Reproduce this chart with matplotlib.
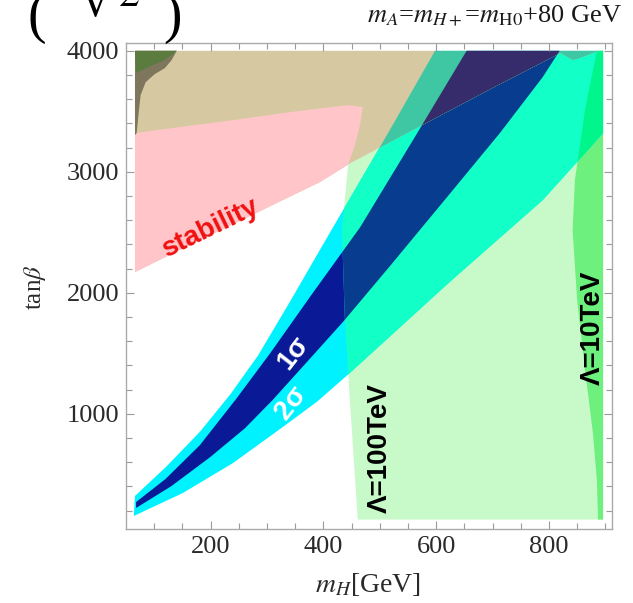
import numpy as np
import matplotlib.pyplot as plt

plt.rcParams['font.family'] = ['Liberation Serif', 'DejaVu Serif']
plt.rcParams['mathtext.fontset'] = 'stix'

# region boundaries in (m_H [GeV], tan beta)
sig2_up_m = [66, 122, 181, 235, 284, 340, 412, 516, 598]
sig2_up_t = [320, 565, 850, 1160, 1480, 1920, 2500, 3330, 4000]
sig2_lo_m = [64, 151, 240, 328, 389, 447, 624, 789, 896]
sig2_lo_t = [155, 345, 593, 890, 1100, 1337, 2089, 2766, 3319]

sig1_up_m = [68, 120, 181, 245, 306, 380, 465, 560, 654]
sig1_up_t = [270, 460, 740, 1120, 1502, 1990, 2540, 3270, 4000]
sig1_lo_m = [68, 130, 199, 261, 310, 381, 435, 518, 621, 713, 789, 819]
sig1_lo_t = [221, 400, 640, 880, 1113, 1480, 1760, 2220, 2800, 3320, 3783, 4000]

# lower edge of the excluded (tan) region
excl_m = [66, 181, 270, 328, 394, 444, 572, 696, 820, 843, 855, 878, 890]
excl_t = [2171, 2436, 2634, 2766, 2915, 3060, 3378, 3683, 3981, 3923, 3940, 3981, 4000]

stab_top_m = [66, 146, 240, 341, 443, 456, 470, 465, 456]
stab_top_t = [3320, 3370, 3427, 3493, 3551, 3543, 3535, 3386, 3221]

lam100_m = [461, 447, 438, 433]
lam100_t = [125, 1113, 1798, 2517]
lam10_m = [885, 864, 846, 842, 850, 864, 878, 885, 887]
lam10_t = [4000, 3509, 2931, 2518, 1939, 1361, 840, 452, 125]

olive_m = [66, 69, 73, 76, 85, 101, 119, 131, 140, 66]
olive_t = [3303, 3320, 3509, 3634, 3741, 3807, 3857, 3923, 4000, 4000]
dgreen_m = [66, 140, 119, 93, 68]
dgreen_t = [4000, 4000, 3923, 3873, 3816]

m_min, m_max, t_min, t_max = 66, 896, 125, 4000

fig = plt.figure(figsize=(6.33, 6.03), dpi=100)
ax = fig.add_axes([0.199, 0.1227, 0.768, 0.8063])


def region(m, t, color, clip=None):
    p = ax.fill(m, t, color=color, lw=0)[0]
    if clip is not None:
        p.set_clip_path(clip)
    return p


k = excl_m.index(444)
l100 = region(lam100_m + excl_m[k:] + [m_max, m_max],
              lam100_t + excl_t[k:] + [t_max, t_min], '#C8F9C8')
l10 = region(lam10_m + [m_max, m_max], lam10_t + [t_min, t_max], '#6DF07D')

band2_m = sig2_up_m + [m_max] + sig2_lo_m[::-1]
band2_t = sig2_up_t + [t_max] + sig2_lo_t[::-1]
band1_m = sig1_up_m + sig1_lo_m[::-1]
band1_t = sig1_up_t + sig1_lo_t[::-1]

region(band2_m, band2_t, '#00F2FF')
region(band1_m, band1_t, '#0A1A96')
region(band2_m, band2_t, '#12FFC8', clip=l100)
region(band2_m, band2_t, '#00F58A', clip=l10)
region(band1_m, band1_t, '#073C8E', clip=l100)

tan = region(excl_m + [m_min], excl_t + [t_max], '#D6C9A2')
region(band2_m, band2_t, '#3FC7A3', clip=tan)
region(band1_m, band1_t, '#362C6C', clip=tan)

region(stab_top_m + excl_m[:k + 1][::-1], stab_top_t + excl_t[:k + 1][::-1], '#FFC5C9')
region(olive_m, olive_t, '#7E775E')
region(dgreen_m, dgreen_t, '#5B7B3F')

lab = dict(family=['Liberation Sans', 'DejaVu Sans'], weight='bold', fontsize=20,
           ha='center', va='center')
ax.text(199, 2535, 'stability', color='#F01010', rotation=26, **lab)
ax.text(346, 1502, '1σ', color='white', rotation=52, **lab)
ax.text(342, 1089, '2σ', color='white', rotation=52, **lab)
ax.text(500, 717, 'Λ=100TeV', color='black', rotation=90, **lab)
ax.text(878, 1708, 'Λ=10TeV', color='black', rotation=90, **lab)

ax.set_xlim(50, 912)
ax.set_ylim(47, 4066)
ax.set_xticks([200, 400, 600, 800])
ax.set_xticks(np.arange(100, 901, 50), minor=True)
ax.set_yticks([1000, 2000, 3000, 4000])
ax.set_yticks(np.arange(200, 4001, 200), minor=True)
ax.tick_params(which='both', direction='in', top=True, right=True,
               color='#9A9A9A', width=0.8)
ax.tick_params(which='major', length=6, labelsize=19, labelcolor='#2A2A2A', pad=5)
ax.tick_params(which='minor', length=4)
for s in ax.spines.values():
    s.set_color('#AAAAAA')
    s.set_linewidth(1.0)

fig.text(0.581, 0.030, r'$m_H$[GeV]', fontsize=20, color='#2A2A2A',
         ha='center', va='center')
fig.text(0.055, 0.524, r'tan$\beta$', fontsize=18, color='#2A2A2A',
         ha='center', va='center', rotation=90)
fig.text(0.983, 0.972, r'$m_A$=$m_{H+}$=$m_{\rm H0}$+80 GeV', fontsize=19,
         color='#1A1A1A', ha='right', va='center')

# leftover of the formula above the plot
fig.text(0.058, 0.927, '(', fontsize=40, ha='center', va='bottom')
fig.text(0.175, 0.967, r'$\sqrt{2}$', fontsize=30, ha='center', va='bottom')
fig.text(0.272, 0.927, ')', fontsize=40, ha='center', va='bottom')

fig.savefig('out.png', dpi=100)
